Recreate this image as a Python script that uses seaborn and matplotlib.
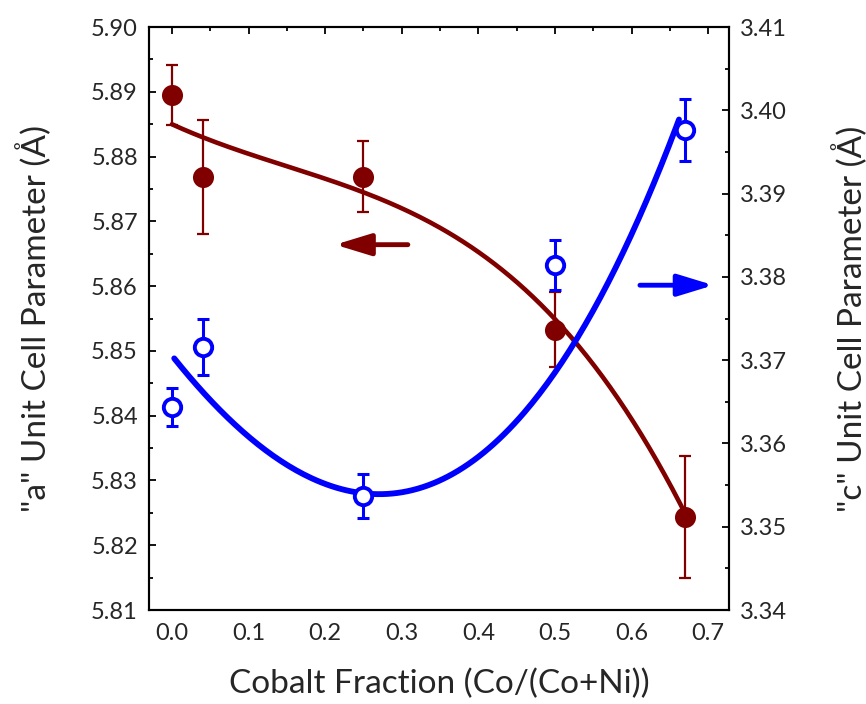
import numpy as np
import pandas as pd
import matplotlib
matplotlib.use("Agg")
import matplotlib.pyplot as plt
import seaborn as sns
from matplotlib.ticker import MultipleLocator, FormatStrFormatter

sns.set_theme(style="white")
plt.rcParams['font.family'] = ['Lato', 'DejaVu Sans']

# ---- measured data ----
cobalt_fraction = [0.0, 0.04, 0.25, 0.50, 0.67]
a_param = [5.8895, 5.8769, 5.8769, 5.8533, 5.8243]
a_err = [0.0046, 0.0088, 0.0055, 0.0058, 0.0094]
c_param = [3.3644, 3.3716, 3.3537, 3.3814, 3.3976]
c_err = [0.0023, 0.0034, 0.0026, 0.0030, 0.0037]

# ---- trend curves ----
a_curve_x = [0.0, 0.04, 0.09, 0.18, 0.25, 0.31, 0.35, 0.405, 0.4575, 0.501, 0.545, 0.606, 0.67]
a_curve_y = [5.8851, 5.8828, 5.8808, 5.8777, 5.8743, 5.8715, 5.8687, 5.8650, 5.8599,
             5.8548, 5.8491, 5.8378, 5.8251]
c_curve_x = [0.003, 0.041, 0.09, 0.17, 0.25, 0.38, 0.4575, 0.501, 0.545, 0.588, 0.632, 0.662]
c_curve_y = [3.3694, 3.3666, 3.3628, 3.3558, 3.3536, 3.3566, 3.3640, 3.3690, 3.3752,
             3.3828, 3.3912, 3.3992]

# arrow anchors (x_start, x_end, y)
a_arrow = [0.308, 0.213, 5.8664]
c_arrow = [0.611, 0.707, 3.3790]

x_label = "Cobalt Fraction (Co/(Co+Ni))"
a_label = '"a" Unit Cell Parameter (Å)'
c_label = '"c" Unit Cell Parameter (Å)'

red = "#800000"
blue = "#0000ff"

df = pd.DataFrame({"x": cobalt_fraction, "a": a_param, "a_err": a_err,
                   "c": c_param, "c_err": c_err})

# smooth polynomial trend through the curve readings
fit_a = np.polyfit(a_curve_x, a_curve_y, 3)
fit_c = np.polyfit(c_curve_x, c_curve_y, 3)
xa_s = np.linspace(min(a_curve_x), max(a_curve_x), 200)
xc_s = np.linspace(min(c_curve_x), max(c_curve_x), 200)
fit_a_df = pd.DataFrame({"x": xa_s, "y": np.polyval(fit_a, xa_s)})
fit_c_df = pd.DataFrame({"x": xc_s, "y": np.polyval(fit_c, xc_s)})

fig, ax = plt.subplots(figsize=(8.66, 7.04), dpi=100)
fig.subplots_adjust(left=0.172, right=0.842, top=0.9616, bottom=0.1335)
ax2 = ax.twinx()

sns.lineplot(data=fit_a_df, x="x", y="y", ax=ax, color=red, lw=3.3, legend=False,
             sort=False)
ax.errorbar(df["x"], df["a"], yerr=df["a_err"], fmt="none", ecolor=red,
            elinewidth=1.6, capsize=4.5, capthick=1.6, zorder=3)
sns.scatterplot(data=df, x="x", y="a", ax=ax, color=red, s=230,
                edgecolor=red, linewidth=0, zorder=4, legend=False)

sns.lineplot(data=fit_c_df, x="x", y="y", ax=ax2, color=blue, lw=4.2, legend=False,
             sort=False)
ax2.errorbar(df["x"], df["c"], yerr=df["c_err"], fmt="none", ecolor=blue,
             elinewidth=2.2, capsize=4.5, capthick=2.2, zorder=3)
ax2.plot(df["x"], df["c"], "o", ms=12.5, mfc="white", mec=blue, mew=2.8,
         zorder=4, ls="none")

# arrows
arrow_style = "-|>,head_length=1.8,head_width=0.55"
ax.annotate("", xy=(a_arrow[1], a_arrow[2]), xytext=(a_arrow[0], a_arrow[2]),
            arrowprops=dict(arrowstyle=arrow_style, color=red, lw=3.5,
                            shrinkA=0, shrinkB=0))
ax2.annotate("", xy=(c_arrow[1], c_arrow[2]), xytext=(c_arrow[0], c_arrow[2]),
             arrowprops=dict(arrowstyle=arrow_style, color=blue, lw=3.5,
                             shrinkA=0, shrinkB=0))

ax.set_xlim(-0.03, 0.7275)
ax.set_ylim(5.81, 5.90)
ax2.set_ylim(3.34, 3.41)

ax.xaxis.set_major_locator(MultipleLocator(0.1))
ax.xaxis.set_minor_locator(MultipleLocator(0.05))
ax.yaxis.set_major_locator(MultipleLocator(0.01))
ax.yaxis.set_minor_locator(MultipleLocator(0.005))
ax2.yaxis.set_major_locator(MultipleLocator(0.01))
ax2.yaxis.set_minor_locator(MultipleLocator(0.005))
ax.xaxis.set_major_formatter(FormatStrFormatter("%.1f"))
ax.yaxis.set_major_formatter(FormatStrFormatter("%.2f"))
ax2.yaxis.set_major_formatter(FormatStrFormatter("%.2f"))

ax.set_xlabel(x_label, fontsize=24, labelpad=18)
ax.set_ylabel(a_label, fontsize=24, labelpad=28)
ax2.set_ylabel(c_label, fontsize=24, labelpad=32)

for a in (ax, ax2):
    for s in a.spines.values():
        s.set_color("black")
        s.set_linewidth(1.5)
ax.tick_params(axis="both", which="major", direction="in", length=5, width=1.3,
               labelsize=17, top=True, color="black")
ax.tick_params(axis="both", which="minor", direction="in", length=3, width=1.3,
               top=True, color="black")
ax.tick_params(axis="y", right=False, which="both")
ax2.tick_params(axis="y", which="major", direction="in", length=5, width=1.3,
                labelsize=17, color="black")
ax2.tick_params(axis="y", which="minor", direction="in", length=3, width=1.3,
                color="black")
ax.tick_params(axis="x", pad=9)
ax.tick_params(axis="y", pad=8)
ax2.tick_params(axis="y", pad=8)

fig.savefig("out.png", dpi=100)
